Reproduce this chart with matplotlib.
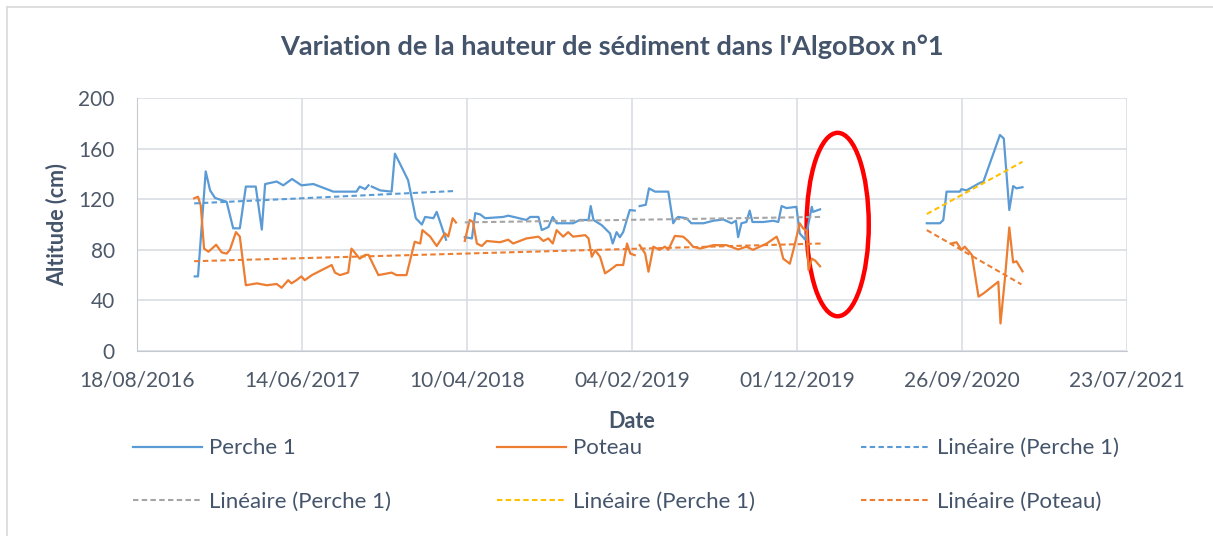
import numpy as np
import matplotlib.pyplot as plt
import matplotlib.dates as mdates
from matplotlib.patches import Ellipse
from matplotlib.lines import Line2D

# jours comptés depuis le 18/08/2016
debut = np.datetime64('2016-08-18')
nan = np.nan

perche_a_jours = [105, 111, 125, 133, 142, 163, 175, 187, 198, 216, 227, 233, 254, 266,
                  282, 299, 321, 357, 399, 405, 415, 421, 424, 427, 442, 463, 469, 484,
                  493, 507, 518, 524, 539, 545, 562]
perche_a_cm = [59, 59, 142, 127, 121, 118, 97, 97, 130, 130, 96, 132, 134, 131,
               136, 131, 132, 126, 126, 130, 128, 131, nan, 130, 127, 126, 156, 143,
               135, 105, 100, 106, 105, 110, 88]

perche_b_jours = [596, 609, 615, 624, 633, 666, 675, 690, 708, 715, 730, 736, 748, 756,
                  763, 793, 805, 821, 825, 830, 845, 860, 865, 872, 878, 884, 896, 905,
                  910, 914, 925, 931, 942, 966, 975, 980, 984, 999, 1008, 1030, 1048,
                  1066, 1081, 1089, 1093, 1099, 1108, 1114, 1119, 1139, 1157, 1166,
                  1172, 1181, 1199, 1205, 1215, 1227, 1229, 1242]
perche_b_cm = [90, 89, 109, 108, 105, 106, 107, 105.5, 103.6, 106, 106, 95.6, 98, 106,
               101, 101, 103.6, 103.6, 114.6, 103.6, 99.5, 93, 85, 94, 90, 94, 111.5, 111,
               nan, 114.6, 115.6, 128.6, 126, 126, 101, 104.6, 106, 105, 101, 101, 103,
               104, 101, 103, 90, 101, 102, 111, 102, 102, 103, 102,
               114.6, 113, 114, 93, 88, 114, 110, 112]

perche_c_jours = [1436, 1460, 1466, 1472, 1496, 1499, 1508, 1533, 1539, 1569, 1576,
                  1586, 1593, 1599, 1610]
perche_c_cm = [101, 101, 103.6, 126, 126, 128, 127, 133, 134, 170.8, 168,
               111.5, 130.4, 128.6, 129.5]

poteau_jours = [104, 111, 116, 122, 130, 144, 154, 163, 169, 180, 187, 198, 218, 236,
                254, 263, 275, 281, 290, 299, 305, 318, 354, 360, 369, 384, 390, 405,
                415, 421, 439, 463, 472, 490, 505, 515, 519, 533, 545, 560, 566, 574,
                580, 588, 596, 605, 611, 618, 627, 636, 660, 675, 684, 708, 730, 739,
                748, 756, 763, 775, 784, 793, 815, 821, 827, 833, 842, 851, 860, 872,
                884, 891, 897, 905, 910, 914, 924, 930, 939, 950, 960, 966, 978, 993,
                1002, 1011, 1024, 1048, 1072, 1093, 1108, 1120, 1145, 1163, 1169, 1175,
                1187, 1195, 1202, 1205, 1211, 1218, 1221, 1227, 1233, 1242, 1300,
                1481, 1490, 1499, 1505, 1518, 1530, 1539, 1566, 1570, 1578, 1586, 1593,
                1599, 1610]
poteau_cm = [120.7, 122, 115, 81, 78.5, 84, 78, 77, 80, 94, 90.5, 52, 53.5, 52,
             53, 50, 56, 53.5, 56, 59, 56, 60, 68, 62, 60, 62, 81, 73,
             76, 76, 60, 62, 60, 60, 86.4, 85, 95.6, 90.5, 83, 93, 90.5, 105,
             101.6, nan, 87, 103.6, 102, 85, 83, 87, 86, 88, 85, 89, 90.4, 87,
             89, 85, 95.6, 90.4, 94, 90.4, 91.6, 89, 74.5, 79.6, 74.5, 61.4, 64, 68,
             68, 85, 77, 75.8, nan, 83.7, 77, 62.7, 82.5, 80, 82.5, 80, 91, 90.4,
             87, 82.5, 81, 83.7, 83.7, 80.3, 82.5, 80, 85, 90.4, 83.7, 73,
             69, 82.5, 95.6, 101, 97, 95, 64, 73, 71.5, 67, nan,
             85, 86, 80, 82.5, 76, 43, 45.5, 54.8, 21.8, 57, 97.7, 70,
             71, 63]

# courbes de tendance (début, fin)
tend_perche_a_jours = [104, 578]
tend_perche_a_cm = [116.7, 126.5]
tend_perche_b_jours = [596, 1242]
tend_perche_b_cm = [101.7, 106]
tend_perche_c_jours = [1436, 1610]
tend_perche_c_cm = [108.3, 149.6]
tend_poteau_a_jours = [104, 1245]
tend_poteau_a_cm = [71, 85]
tend_poteau_b_jours = [1436, 1608]
tend_poteau_b_cm = [95.6, 52.7]


def dates(jours):
    return debut + np.array(jours).astype('timedelta64[D]')


BLEU = '#5B9BD5'
ORANGE = '#ED7D31'
GRIS = '#A5A5A5'
JAUNE = '#FFC000'
TEXTE = '#44546A'
TICKS = '#4D5869'
GRILLE = '#D9DDE3'

plt.rcParams['font.family'] = ['Lato', 'DejaVu Sans']

fig = plt.figure(figsize=(12.13, 5.36), dpi=100)
ax = fig.add_axes([0.1129, 0.3451, 0.8162, 0.472])

lw = 1.6
dash = (0, (2.6, 1.6))
h1, = ax.plot(dates(perche_a_jours), perche_a_cm, color=BLEU, lw=lw, label='Perche 1')
ax.plot(dates(perche_b_jours), perche_b_cm, color=BLEU, lw=lw)
ax.plot(dates(perche_c_jours), perche_c_cm, color=BLEU, lw=lw)
h2, = ax.plot(dates(poteau_jours), poteau_cm, color=ORANGE, lw=lw, label='Poteau')

h3, = ax.plot(dates(tend_perche_a_jours), tend_perche_a_cm, color=BLEU, lw=1.5,
              linestyle=dash, label='Linéaire (Perche 1)')
h4, = ax.plot(dates(tend_perche_b_jours), tend_perche_b_cm, color=GRIS, lw=1.5,
              linestyle=dash, label='Linéaire (Perche 1)')
h5, = ax.plot(dates(tend_perche_c_jours), tend_perche_c_cm, color=JAUNE, lw=1.5,
              linestyle=dash, label='Linéaire (Perche 1)')
h6, = ax.plot(dates(tend_poteau_a_jours), tend_poteau_a_cm, color=ORANGE, lw=1.5,
              linestyle=dash, label='Linéaire (Poteau)')
ax.plot(dates(tend_poteau_b_jours), tend_poteau_b_cm, color=ORANGE, lw=1.5,
        linestyle=dash)

# ellipse rouge autour de la période manquante
centre = mdates.date2num(dates([1274])[0])
ax.add_patch(Ellipse((centre, 100), 113, 145, fill=False, edgecolor='#FF0000', lw=3.2))

# axes
x0 = mdates.date2num(debut)
ticks = [x0 + 300 * i for i in range(7)]
ax.set_xlim(ticks[0], ticks[-1])
ax.set_xticks(ticks)
ax.xaxis.set_major_formatter(mdates.DateFormatter('%d/%m/%Y'))
ax.set_ylim(0, 200)
ax.set_yticks(range(0, 201, 40))
ax.grid(True, color=GRILLE, lw=1.2)
ax.set_axisbelow(True)
ax.tick_params(length=0, labelsize=15, colors=TICKS)
ax.tick_params(axis='x', pad=14)
ax.tick_params(axis='y', pad=16)
for s in ['top', 'right']:
    ax.spines[s].set_visible(False)
ax.spines['left'].set_color('#C4C9D1')
ax.spines['bottom'].set_color('#C4C9D1')

ax.set_xlabel('Date', fontsize=15.5, fontweight='bold', color=TEXTE, labelpad=15)
ax.set_ylabel('Altitude (cm)', fontsize=15.5, fontweight='bold', color=TEXTE, labelpad=8)
fig.suptitle("Variation de la hauteur de sédiment dans l'AlgoBox n°1", x=0.5045, y=0.936,
             fontsize=19.5, fontweight='bold', color=TEXTE)

leg = fig.legend([h1, h4, h2, h5, h3, h6],
                 ['Perche 1', 'Linéaire (Perche 1)', 'Poteau', 'Linéaire (Perche 1)',
                  'Linéaire (Perche 1)', 'Linéaire (Poteau)'],
                 ncol=3, loc='upper left', bbox_to_anchor=(0.1006, 0.203), frameon=False,
                 fontsize=16, handlelength=3.1, handletextpad=0.32, columnspacing=4.76,
                 labelspacing=1.5, borderpad=0, labelcolor=TEXTE)

# bordure du cadre (gauche et haut seulement)
fig.add_artist(Line2D([0.0054, 0.0054], [0, 0.987], color='#D9D9D9', lw=1.2))
fig.add_artist(Line2D([0.0054, 1], [0.987, 0.987], color='#D9D9D9', lw=1.2))

fig.savefig('out.png', dpi=100)
